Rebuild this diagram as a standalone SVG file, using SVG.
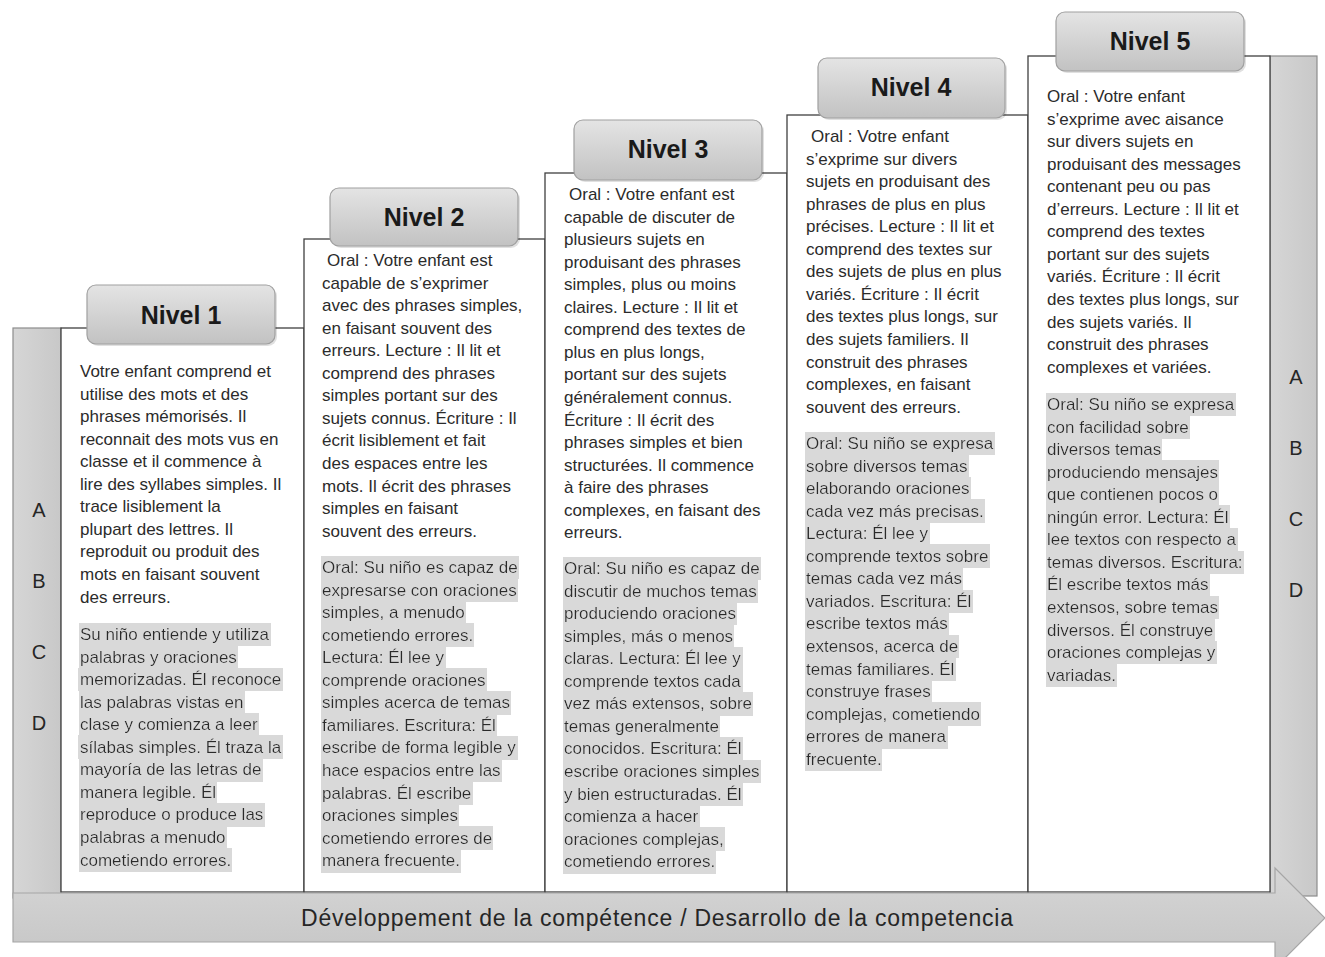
<svg xmlns="http://www.w3.org/2000/svg" width="1325" height="957" viewBox="0 0 1325 957">
<style>
.col{fill:#ffffff;stroke:#404040;stroke-width:1.3}
.bar{fill:url(#barG);stroke:#8c8c8c;stroke-width:1.2}
.hdr{fill:url(#hdrG);stroke:#a0a0a0;stroke-width:1.2}
.hs{fill:#000;opacity:0.12}
.ht{font-family:"Liberation Sans",Arial,sans-serif;font-weight:bold;font-size:25px;fill:#1a1a1a;text-anchor:middle}
.fr,.es{font-family:"Liberation Sans",Arial,sans-serif;font-size:17px;fill:#2b2b2b}
.es{filter:url(#hl)}
.lt{font-family:"Liberation Sans",Arial,sans-serif;font-size:20px;fill:#262626;text-anchor:middle}
.at{font-family:"Liberation Sans",Arial,sans-serif;font-size:23px;fill:#262626;text-anchor:middle}
</style>
<defs>
<linearGradient id="hdrG" x1="0" y1="0" x2="0" y2="1"><stop offset="0" stop-color="#e4e4e4"/><stop offset="1" stop-color="#c2c2c2"/></linearGradient>
<linearGradient id="barG" x1="0" y1="0" x2="1" y2="0"><stop offset="0" stop-color="#d6d6d6"/><stop offset="1" stop-color="#c8c8c8"/></linearGradient>
<linearGradient id="arrG" x1="0" y1="0" x2="0" y2="1"><stop offset="0" stop-color="#d6d6d6"/><stop offset="1" stop-color="#c4c4c4"/></linearGradient>
<filter id="hl" x="-0.005" y="-0.1" width="1.01" height="1.2"><feFlood flood-color="#d9d9d9"/><feComposite in="SourceGraphic"/></filter>
</defs>

<g id="bar-left">
<rect class="bar" x="13" y="328" width="48" height="570"/>
<text class="lt" x="39" y="517">A</text>
<text class="lt" x="39" y="588">B</text>
<text class="lt" x="39" y="659">C</text>
<text class="lt" x="39" y="730">D</text>
</g>
<g id="bar-right">
<rect class="bar" x="1270" y="56" width="47" height="840"/>
<text class="lt" x="1296" y="384">A</text>
<text class="lt" x="1296" y="455">B</text>
<text class="lt" x="1296" y="526">C</text>
<text class="lt" x="1296" y="597">D</text>
</g>

<g id="col1">
<rect class="col" x="61" y="328" width="243" height="564"/>
<text class="fr" x="80" y="377"><tspan x="80">Votre enfant comprend et</tspan><tspan x="80" dy="22.55">utilise des mots et des</tspan><tspan x="80" dy="22.55">phrases mémorisés. Il</tspan><tspan x="80" dy="22.55">reconnait des mots vus en</tspan><tspan x="80" dy="22.55">classe et il commence à</tspan><tspan x="80" dy="22.55">lire des syllabes simples. Il</tspan><tspan x="80" dy="22.55">trace lisiblement la</tspan><tspan x="80" dy="22.55">plupart des lettres. Il</tspan><tspan x="80" dy="22.55">reproduit ou produit des</tspan><tspan x="80" dy="22.55">mots en faisant souvent</tspan><tspan x="80" dy="22.55">des erreurs.</tspan></text>
<text class="es" x="80" y="640">Su niño entiende y utiliza</text>
<text class="es" x="80" y="662.6">palabras y oraciones</text>
<text class="es" x="80" y="685.1">memorizadas. Él reconoce</text>
<text class="es" x="80" y="707.7">las palabras vistas en</text>
<text class="es" x="80" y="730.2">clase y comienza a leer</text>
<text class="es" x="80" y="752.8">sílabas simples. Él traza la</text>
<text class="es" x="80" y="775.3">mayoría de las letras de</text>
<text class="es" x="80" y="797.9">manera legible. Él</text>
<text class="es" x="80" y="820.4">reproduce o produce las</text>
<text class="es" x="80" y="843">palabras a menudo</text>
<text class="es" x="80" y="865.5">cometiendo errores.</text>
</g>

<g id="col2">
<rect class="col" x="304" y="239" width="241" height="653"/>
<text class="fr" x="322" y="266"><tspan x="327">Oral : Votre enfant est</tspan><tspan x="322" dy="22.55">capable de s’exprimer</tspan><tspan x="322" dy="22.55">avec des phrases simples,</tspan><tspan x="322" dy="22.55">en faisant souvent des</tspan><tspan x="322" dy="22.55">erreurs. Lecture : Il lit et</tspan><tspan x="322" dy="22.55">comprend des phrases</tspan><tspan x="322" dy="22.55">simples portant sur des</tspan><tspan x="322" dy="22.55">sujets connus. Écriture : Il</tspan><tspan x="322" dy="22.55">écrit lisiblement et fait</tspan><tspan x="322" dy="22.55">des espaces entre les</tspan><tspan x="322" dy="22.55">mots. Il écrit des phrases</tspan><tspan x="322" dy="22.55">simples en faisant</tspan><tspan x="322" dy="22.55">souvent des erreurs.</tspan></text>
<text class="es" x="322" y="573">Oral: Su niño es capaz de</text>
<text class="es" x="322" y="595.6">expresarse con oraciones</text>
<text class="es" x="322" y="618.1">simples, a menudo</text>
<text class="es" x="322" y="640.7">cometiendo errores.</text>
<text class="es" x="322" y="663.2">Lectura: Él lee y</text>
<text class="es" x="322" y="685.8">comprende oraciones</text>
<text class="es" x="322" y="708.3">simples acerca de temas</text>
<text class="es" x="322" y="730.9">familiares. Escritura: Él</text>
<text class="es" x="322" y="753.4">escribe de forma legible y</text>
<text class="es" x="322" y="776">hace espacios entre las</text>
<text class="es" x="322" y="798.5">palabras. Él escribe</text>
<text class="es" x="322" y="821.1">oraciones simples</text>
<text class="es" x="322" y="843.6">cometiendo errores de</text>
<text class="es" x="322" y="866.2">manera frecuente.</text>
</g>

<g id="col3">
<rect class="col" x="545" y="173" width="242" height="719"/>
<text class="fr" x="564" y="200"><tspan x="569">Oral : Votre enfant est</tspan><tspan x="564" dy="22.55">capable de discuter de</tspan><tspan x="564" dy="22.55">plusieurs sujets en</tspan><tspan x="564" dy="22.55">produisant des phrases</tspan><tspan x="564" dy="22.55">simples, plus ou moins</tspan><tspan x="564" dy="22.55">claires. Lecture : Il lit et</tspan><tspan x="564" dy="22.55">comprend des textes de</tspan><tspan x="564" dy="22.55">plus en plus longs,</tspan><tspan x="564" dy="22.55">portant sur des sujets</tspan><tspan x="564" dy="22.55">généralement connus.</tspan><tspan x="564" dy="22.55">Écriture : Il écrit des</tspan><tspan x="564" dy="22.55">phrases simples et bien</tspan><tspan x="564" dy="22.55">structurées. Il commence</tspan><tspan x="564" dy="22.55">à faire des phrases</tspan><tspan x="564" dy="22.55">complexes, en faisant des</tspan><tspan x="564" dy="22.55">erreurs.</tspan></text>
<text class="es" x="564" y="574">Oral: Su niño es capaz de</text>
<text class="es" x="564" y="596.6">discutir de muchos temas</text>
<text class="es" x="564" y="619.1">produciendo oraciones</text>
<text class="es" x="564" y="641.7">simples, más o menos</text>
<text class="es" x="564" y="664.2">claras. Lectura: Él lee y</text>
<text class="es" x="564" y="686.8">comprende textos cada</text>
<text class="es" x="564" y="709.3">vez más extensos, sobre</text>
<text class="es" x="564" y="731.9">temas generalmente</text>
<text class="es" x="564" y="754.4">conocidos. Escritura: Él</text>
<text class="es" x="564" y="777">escribe oraciones simples</text>
<text class="es" x="564" y="799.5">y bien estructuradas. Él</text>
<text class="es" x="564" y="822.1">comienza a hacer</text>
<text class="es" x="564" y="844.6">oraciones complejas,</text>
<text class="es" x="564" y="867.2">cometiendo errores.</text>
</g>

<g id="col4">
<rect class="col" x="787" y="115" width="241" height="777"/>
<text class="fr" x="806" y="142"><tspan x="811">Oral : Votre enfant</tspan><tspan x="806" dy="22.55">s’exprime sur divers</tspan><tspan x="806" dy="22.55">sujets en produisant des</tspan><tspan x="806" dy="22.55">phrases de plus en plus</tspan><tspan x="806" dy="22.55">précises. Lecture : Il lit et</tspan><tspan x="806" dy="22.55">comprend des textes sur</tspan><tspan x="806" dy="22.55">des sujets de plus en plus</tspan><tspan x="806" dy="22.55">variés. Écriture : Il écrit</tspan><tspan x="806" dy="22.55">des textes plus longs, sur</tspan><tspan x="806" dy="22.55">des sujets familiers. Il</tspan><tspan x="806" dy="22.55">construit des phrases</tspan><tspan x="806" dy="22.55">complexes, en faisant</tspan><tspan x="806" dy="22.55">souvent des erreurs.</tspan></text>
<text class="es" x="806" y="449">Oral: Su niño se expresa</text>
<text class="es" x="806" y="471.6">sobre diversos temas</text>
<text class="es" x="806" y="494.1">elaborando oraciones</text>
<text class="es" x="806" y="516.7">cada vez más precisas.</text>
<text class="es" x="806" y="539.2">Lectura: Él lee y</text>
<text class="es" x="806" y="561.8">comprende textos sobre</text>
<text class="es" x="806" y="584.3">temas cada vez más</text>
<text class="es" x="806" y="606.9">variados. Escritura: Él</text>
<text class="es" x="806" y="629.4">escribe textos más</text>
<text class="es" x="806" y="652">extensos, acerca de</text>
<text class="es" x="806" y="674.5">temas familiares. Él</text>
<text class="es" x="806" y="697.1">construye frases</text>
<text class="es" x="806" y="719.6">complejas, cometiendo</text>
<text class="es" x="806" y="742.2">errores de manera</text>
<text class="es" x="806" y="764.7">frecuente.</text>
</g>

<g id="col5">
<rect class="col" x="1028" y="56" width="242" height="836"/>
<text class="fr" x="1047" y="102"><tspan x="1047">Oral : Votre enfant</tspan><tspan x="1047" dy="22.55">s’exprime avec aisance</tspan><tspan x="1047" dy="22.55">sur divers sujets en</tspan><tspan x="1047" dy="22.55">produisant des messages</tspan><tspan x="1047" dy="22.55">contenant peu ou pas</tspan><tspan x="1047" dy="22.55">d’erreurs. Lecture : Il lit et</tspan><tspan x="1047" dy="22.55">comprend des textes</tspan><tspan x="1047" dy="22.55">portant sur des sujets</tspan><tspan x="1047" dy="22.55">variés. Écriture : Il écrit</tspan><tspan x="1047" dy="22.55">des textes plus longs, sur</tspan><tspan x="1047" dy="22.55">des sujets variés. Il</tspan><tspan x="1047" dy="22.55">construit des phrases</tspan><tspan x="1047" dy="22.55">complexes et variées.</tspan></text>
<text class="es" x="1047" y="410">Oral: Su niño se expresa</text>
<text class="es" x="1047" y="432.6">con facilidad sobre</text>
<text class="es" x="1047" y="455.1">diversos temas</text>
<text class="es" x="1047" y="477.7">produciendo mensajes</text>
<text class="es" x="1047" y="500.2">que contienen pocos o</text>
<text class="es" x="1047" y="522.8">ningún error. Lectura: Él</text>
<text class="es" x="1047" y="545.3">lee textos con respecto a</text>
<text class="es" x="1047" y="567.9">temas diversos. Escritura:</text>
<text class="es" x="1047" y="590.4">Él escribe textos más</text>
<text class="es" x="1047" y="613">extensos, sobre temas</text>
<text class="es" x="1047" y="635.5">diversos. Él construye</text>
<text class="es" x="1047" y="658.1">oraciones complejas y</text>
<text class="es" x="1047" y="680.6">variadas.</text>
</g>

<g id="nivel1">
<rect class="hs" x="89" y="287" width="188" height="59" rx="9"/>
<rect class="hdr" x="87" y="285" width="188" height="59" rx="9"/>
<text class="ht" x="181" y="324">Nivel 1</text>
</g>
<g id="nivel2">
<rect class="hs" x="332" y="190" width="188" height="58" rx="9"/>
<rect class="hdr" x="330" y="188" width="188" height="58" rx="9"/>
<text class="ht" x="424" y="226">Nivel 2</text>
</g>
<g id="nivel3">
<rect class="hs" x="576" y="122" width="188" height="60" rx="9"/>
<rect class="hdr" x="574" y="120" width="188" height="60" rx="9"/>
<text class="ht" x="668" y="158">Nivel 3</text>
</g>
<g id="nivel4">
<rect class="hs" x="820" y="60" width="187" height="60" rx="9"/>
<rect class="hdr" x="818" y="58" width="187" height="60" rx="9"/>
<text class="ht" x="911" y="96">Nivel 4</text>
</g>
<g id="nivel5">
<rect class="hs" x="1058" y="14" width="188" height="59" rx="9"/>
<rect class="hdr" x="1056" y="12" width="188" height="59" rx="9"/>
<text class="ht" x="1150" y="50">Nivel 5</text>
</g>

<g id="arrow">
<polygon points="13,893 1275,893 1275,868 1325,918 1275,968 1275,942 13,942" fill="url(#arrG)" stroke="#a6a6a6" stroke-width="1.2"/>
<text class="at" x="657" y="926" textLength="712" lengthAdjust="spacing">Développement de la compétence / Desarrollo de la competencia</text>
</g>
</svg>
